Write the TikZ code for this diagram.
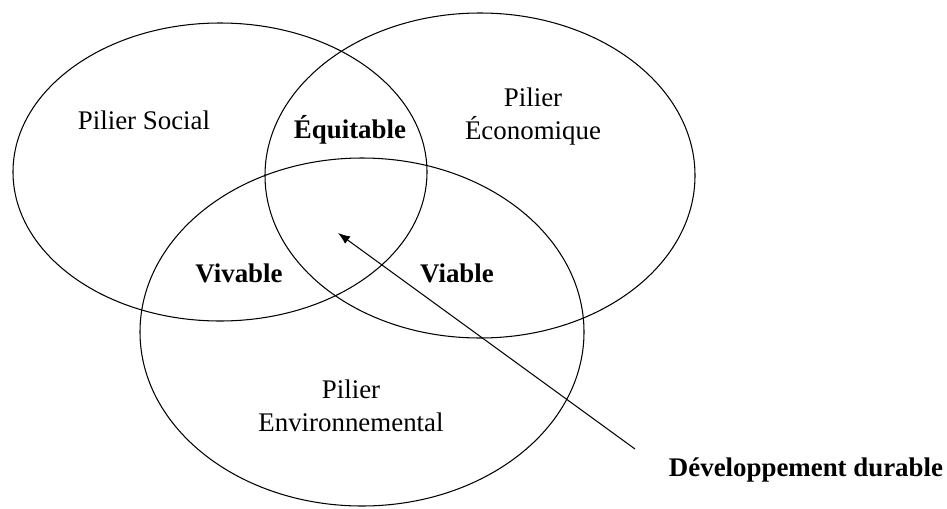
\documentclass[tikz,border=0pt]{standalone}
\usepackage{fontspec}
\setmainfont{Liberation Serif}
\usepackage{tikz}
\usetikzlibrary{positioning,calc,arrows.meta}

\begin{document}
\begin{tikzpicture}[
        % --- STYLE COMMUN ---
        pilier/.style={
            draw=black,
            line width=0.6pt
        },
        % Texte des piliers (normal)
        label_pilier/.style={
            align=center,
            font=\fontsize{15.3}{18.8}\selectfont,
            inner sep=0pt
        },
        % Texte des zones (gras)
        label_zone/.style={
            label_pilier,
            font=\fontsize{15.3}{18.8}\selectfont\bfseries
        },
        % Style de la fleche
        fleche/.style={
            draw=black,
            line width=0.6pt,
            -{Latex[length=2.4mm, width=1.8mm]}
        }
    ]

        % --- CADRE ---
        \useasboundingbox (0,0) rectangle (18.94,-10.16);

        % --- LES TROIS ELLIPSES ---
        \coordinate (cSocial) at (4.40,-3.44);
        \coordinate (cEco) at (9.60,-3.51);
        \coordinate (cEnv) at (7.24,-6.64);

        \draw[pilier] (cSocial) ellipse [x radius=4.14, y radius=2.98];
        \draw[pilier] (cEco) ellipse [x radius=4.30, y radius=3.25];
        \draw[pilier] (cEnv) ellipse [x radius=4.44, y radius=3.48];

        % --- TEXTES DES PILIERS ---
        \node[label_pilier] (social) at (2.88,-2.40) {Pilier Social};
        \node[label_pilier] (eco) at (10.66,-2.34) {Pilier\\Économique};
        \node[label_pilier] (env) at (7.02,-8.12) {Pilier\\Environnemental};

        % --- TEXTES DES ZONES ---
        \node[label_zone] (equitable) at (7.00,-2.60) {Équitable};
        \node[label_zone] (vivable) at (4.78,-5.46) {Vivable};
        \node[label_zone] (viable) at (9.14,-5.46) {Viable};

        % --- DEVELOPPEMENT DURABLE ---
        \node[label_zone] (durable) at (16.12,-9.40) {Développement durable};
        \coordinate (depart) at (12.70,-8.98);
        \coordinate (centre) at (6.76,-4.66);
        \draw[fleche] (depart) -- (centre);

    \end{tikzpicture}
\end{document}
